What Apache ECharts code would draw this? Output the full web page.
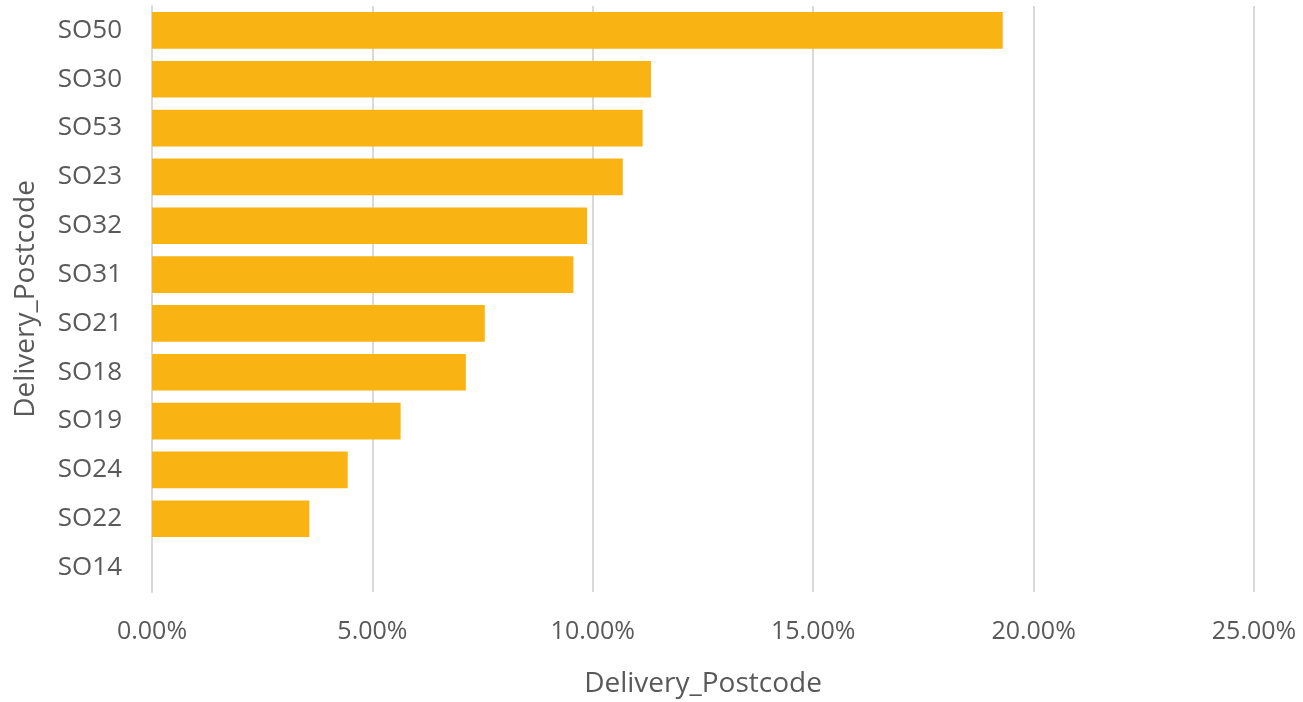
<!DOCTYPE html>
<html>
<head>
<meta charset="utf-8">
<script src="https://cdn.jsdelivr.net/npm/echarts@6/dist/echarts.min.js"></script>
<style>
html,body{margin:0;padding:0;background:#fff;}
#chart{width:1303px;height:702px;}
</style>
</head>
<body>
<div id="chart"></div>
<script>
const categories = ['SO50','SO30','SO53','SO23','SO32','SO31','SO21','SO18','SO19','SO24','SO22','SO14'];
const values = [19.30, 11.32, 11.13, 10.68, 9.87, 9.56, 7.55, 7.12, 5.64, 4.44, 3.57, 0];
const xTicks = { min: 0, max: 25, interval: 5 };
const axisTitle = 'Delivery_Postcode';

const textColor = '#595959';
const font = 'Open Sans';
const chart = echarts.init(document.getElementById('chart'));
chart.setOption({
  animation: false,
  grid: { left: 152, right: 49, top: 6, bottom: 110, containLabel: false, outerBoundsMode: 'none' },
  xAxis: {
    type: 'value', min: xTicks.min, max: xTicks.max, interval: xTicks.interval,
    axisLine: { show: false }, axisTick: { show: false },
    splitLine: { show: true, lineStyle: { color: '#d9d9d9', width: 2 } },
    axisLabel: { color: textColor, fontFamily: font, fontSize: 25, margin: 27,
      formatter: v => v.toFixed(2) + '%' },
    name: axisTitle, nameLocation: 'middle', nameGap: 78,
    nameTextStyle: { color: textColor, fontFamily: font, fontSize: 28 }
  },
  yAxis: {
    type: 'category', data: categories, inverse: true,
    axisLine: { show: true, lineStyle: { color: '#d9d9d9', width: 2 } },
    axisTick: { show: false },
    axisLabel: { color: textColor, fontFamily: font, fontSize: 26, margin: 30 },
    name: axisTitle, nameLocation: 'middle', nameGap: 112, nameRotate: 90,
    nameTextStyle: { color: textColor, fontFamily: font, fontSize: 28 }
  },
  series: [{
    type: 'bar', data: values, barCategoryGap: '25%',
    itemStyle: { color: '#F9B312' }
  }]
});
</script>
</body>
</html>
